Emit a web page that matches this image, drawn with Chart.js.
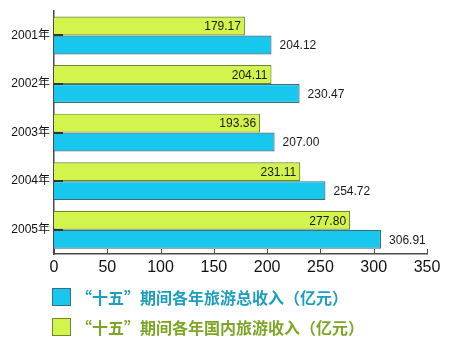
<!DOCTYPE html>
<html>
<head>
<meta charset="utf-8">
<script src="https://cdn.jsdelivr.net/npm/chart.js@4"></script>
<style>
html,body{margin:0;padding:0;background:#fff;}
#wrap{position:relative;width:450px;height:343px;}
canvas{position:absolute;left:0;top:0;}
.lg{position:absolute;left:52px;height:20px;display:flex;align-items:center;font-family:"Noto Sans CJK SC","Liberation Sans",sans-serif;font-weight:bold;font-size:16px;white-space:nowrap;}
.sw{width:17px;height:16px;border:1px solid #3a6f7a;margin-right:5px;box-sizing:content-box;}
</style>
</head>
<body>
<div id="wrap">
<canvas id="c" width="450" height="343"></canvas>
<div class="lg" id="lg1" style="top:287px;color:#1c9fbf;"><span class="sw" style="background:#17c7ee;border-color:#3a6f7a;"></span><span>“十五”期间各年旅游总收入（亿元）</span></div>
<div class="lg" id="lg2" style="top:317px;color:#7ea626;"><span class="sw" style="background:#d2f44c;border-color:#6d8a2a;"></span><span>“十五”期间各年国内旅游收入（亿元）</span></div>
</div>
<script>
const categories = ["2001年","2002年","2003年","2004年","2005年"];
const domesticIncome = [179.17, 204.11, 193.36, 231.11, 277.80];
const totalIncome = [204.12, 230.47, 207.00, 254.72, 306.91];
const xTicks = [0, 50, 100, 150, 200, 250, 300, 350];

const AX = "#4a4a4a";

const tickPlugin = {
  id: "innerTicks",
  afterDatasetsDraw(chart) {
    const ctx = chart.ctx;
    const x = chart.scales.x, y = chart.scales.y;
    const area = chart.chartArea;
    ctx.save();
    ctx.strokeStyle = AX;
    ctx.lineWidth = 1;
    xTicks.forEach(v => {
      const px = Math.round(x.getPixelForValue(v)) + 0.5;
      ctx.beginPath();
      ctx.moveTo(px, area.bottom);
      ctx.lineTo(px, area.bottom - 5);
      ctx.stroke();
    });
    ctx.lineWidth = 2;
    ctx.strokeStyle = "#333";
    categories.forEach((c, i) => {
      const py = Math.round(y.getPixelForValue(i));
      ctx.beginPath();
      ctx.moveTo(area.left, py);
      ctx.lineTo(area.left + 9, py);
      ctx.stroke();
    });
    ctx.restore();
  }
};

const labelPlugin = {
  id: "valueLabels",
  afterDatasetsDraw(chart) {
    const ctx = chart.ctx;
    ctx.save();
    ctx.font = '12px "Liberation Sans", Arial, sans-serif';
    ctx.fillStyle = "#1a1a1a";
    ctx.textBaseline = "middle";
    const m0 = chart.getDatasetMeta(0);
    m0.data.forEach((el, i) => {
      ctx.textAlign = "right";
      ctx.fillText(domesticIncome[i].toFixed(2), el.x - 4, el.y + 1);
    });
    const m1 = chart.getDatasetMeta(1);
    m1.data.forEach((el, i) => {
      ctx.textAlign = "left";
      ctx.fillText(totalIncome[i].toFixed(2), el.x + 8, el.y + 1);
    });
    ctx.restore();
  }
};

new Chart(document.getElementById("c"), {
  type: "bar",
  data: {
    labels: categories,
    datasets: [
      {
        label: "“十五”期间各年国内旅游收入（亿元）",
        data: domesticIncome,
        backgroundColor: "#d2f44c",
        borderColor: "#6d8a2a",
        borderWidth: 1.2,
        categoryPercentage: 0.78,
        barPercentage: 1.0
      },
      {
        label: "“十五”期间各年旅游总收入（亿元）",
        data: totalIncome,
        backgroundColor: "#17c7ee",
        borderColor: "#3a6f7a",
        borderWidth: 1.2,
        categoryPercentage: 0.78,
        barPercentage: 1.0
      }
    ]
  },
  options: {
    indexAxis: "y",
    responsive: false,
    animation: false,
    layout: { padding: { top: 10, right: 23, left: 0, bottom: 0 } },
    plugins: { legend: { display: false }, tooltip: { enabled: false } },
    scales: {
      x: {
        type: "linear",
        min: 0, max: 350,
        afterFit(s) { s.height = 89; },
        afterBuildTicks(s) { s.ticks = xTicks.map(v => ({ value: v })); },
        grid: { display: false, drawTicks: false },
        border: { display: true, color: AX, width: 1.5 },
        ticks: {
          padding: 4,
          color: "#111",
          font: { family: '"Liberation Sans", Arial, sans-serif', size: 16 },
          maxRotation: 0
        }
      },
      y: {
        afterFit(s) { s.width = 54; },
        grid: { display: false, drawTicks: false },
        border: { display: true, color: AX, width: 1.5 },
        ticks: {
          padding: 4,
          color: "#111",
          font: { family: '"Liberation Sans", "Noto Sans CJK SC", sans-serif', size: 12 }
        }
      }
    }
  },
  plugins: [tickPlugin, labelPlugin]
});
</script>
</body>
</html>
